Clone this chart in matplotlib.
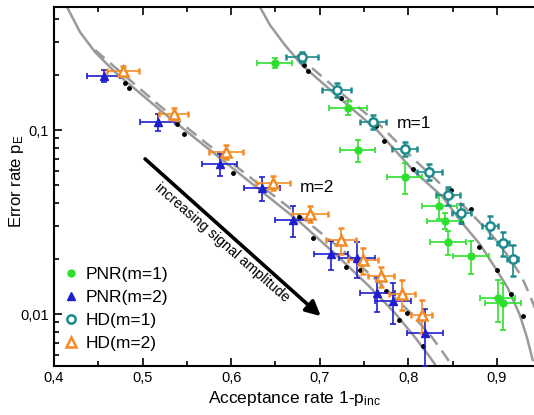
import matplotlib.pyplot as plt
from matplotlib.lines import Line2D
from matplotlib.ticker import FixedLocator, LogLocator, FuncFormatter

plt.rcParams['font.family'] = ['Liberation Sans', 'DejaVu Sans']
plt.rcParams['mathtext.fontset'] = 'custom'
plt.rcParams['mathtext.rm'] = 'Liberation Sans'

# measured points: acceptance rate 1-p_inc (x) and error rate p_E (y)
pnr1_x = [0.649, 0.732, 0.743, 0.796, 0.835, 0.841, 0.845, 0.871, 0.901, 0.907]
pnr1_y = [0.231, 0.132, 0.0778, 0.0555, 0.0386, 0.0320, 0.0246, 0.0207, 0.0122, 0.0115]
pnr1_xerr = [0.020, 0.021, 0.020, 0.020, 0.020, 0.020, 0.020, 0.020, 0.020, 0.020]
pnr1_yerr = [0.014, 0.0115, 0.0107, 0.0104, 0.0058, 0.0032, 0.0037, 0.0041, 0.0031, 0.0033]

pnr2_x = [0.456, 0.517, 0.587, 0.635, 0.670, 0.713, 0.742, 0.765, 0.783, 0.819]
pnr2_y = [0.1965, 0.1105, 0.0653, 0.0484, 0.0324, 0.0212, 0.0201, 0.0130, 0.0118, 0.0079]
pnr2_xerr = [0.019, 0.020, 0.020, 0.020, 0.020, 0.019, 0.020, 0.020, 0.020, 0.020]
pnr2_yerr = [0.0146, 0.0123, 0.0090, 0.0073, 0.0061, 0.0038, 0.0045, 0.0028, 0.0030, 0.0027]

hd1_x = [0.680, 0.719, 0.760, 0.796, 0.824, 0.845, 0.860, 0.892, 0.907, 0.918]
hd1_y = [0.249, 0.165, 0.1105, 0.0788, 0.0591, 0.0443, 0.0354, 0.0301, 0.0243, 0.0199]
hd1_xerr = [0.018, 0.016, 0.015, 0.014, 0.014, 0.014, 0.011, 0.009, 0.007, 0.006]
hd1_yerr = [0.0154, 0.0143, 0.0096, 0.0069, 0.0059, 0.0050, 0.0040, 0.0041, 0.0037, 0.0038]

hd2_x = [0.478, 0.535, 0.594, 0.647, 0.689, 0.724, 0.749, 0.769, 0.793, 0.815]
hd2_y = [0.209, 0.122, 0.0759, 0.0515, 0.0350, 0.0253, 0.0197, 0.0161, 0.0129, 0.0099]
hd2_xerr = [0.018, 0.016, 0.019, 0.019, 0.020, 0.017, 0.017, 0.015, 0.015, 0.012]
hd2_yerr = [0.013, 0.0091, 0.0066, 0.0045, 0.0035, 0.0041, 0.0032, 0.0020, 0.0024, 0.0020]

# theory curves
m2_solid_x = [0.4147, 0.4293, 0.4463, 0.4688, 0.5196, 0.5761, 0.6325, 0.6777, 0.7228, 0.7567, 0.7849, 0.8074, 0.8244, 0.8323]
m2_solid_y = [0.466, 0.3409, 0.2654, 0.2066, 0.1285, 0.0778, 0.0472, 0.0316, 0.0201, 0.01402, 0.01013, 0.0075, 0.00584, 0.00515]
m2_dash_x = [0.4463, 0.5196, 0.5761, 0.6325, 0.6777, 0.7284, 0.7679, 0.8018, 0.8266, 0.8413, 0.8503]
m2_dash_y = [0.2721, 0.1351, 0.0818, 0.0503, 0.0341, 0.0217, 0.01474, 0.01025, 0.0075, 0.00599, 0.00515]
m2_dots_x = [0.4801, 0.4847, 0.5388, 0.5467, 0.6020, 0.6765, 0.6923, 0.7296, 0.7454, 0.7747, 0.7894, 0.7984, 0.8165]
m2_dots_y = [0.180, 0.169, 0.1078, 0.0951, 0.0584, 0.0337, 0.0259, 0.0180, 0.0173, 0.0133, 0.00928, 0.0101, 0.0067]

m1_solid_x = [0.6325, 0.6438, 0.6607, 0.6799, 0.7251, 0.7646, 0.8052, 0.8391, 0.8582, 0.8808, 0.8977, 0.9124, 0.9260, 0.9339, 0.9406]
m1_solid_y = [0.466, 0.3722, 0.2897, 0.2256, 0.1455, 0.100, 0.0606, 0.0432, 0.0324, 0.0240, 0.0180, 0.01385, 0.00988, 0.0075, 0.00562]
m1_dash_x = [0.6743, 0.7228, 0.7679, 0.8074, 0.8413, 0.8695, 0.8955, 0.9147, 0.9282, 0.9372, 0.9429]
m1_dash_y = [0.2556, 0.1609, 0.1065, 0.0687, 0.0484, 0.0358, 0.0265, 0.0201, 0.0159, 0.0127, 0.01078]
m1_dots_x = [0.6822, 0.6867, 0.7239, 0.7634, 0.7725, 0.8052, 0.8481, 0.8707, 0.8594, 0.8797, 0.9000, 0.9158, 0.9293]
m1_dots_y = [0.2256, 0.2092, 0.1493, 0.1051, 0.0871, 0.0614, 0.0472, 0.0372, 0.0316, 0.0231, 0.0173, 0.01285, 0.00975]

green = '#2ee02e'
blue = '#1f1fcf'
teal = '#1d8a8c'
orange = '#f28c28'
gray = '#9a9a9a'

fig = plt.figure(figsize=(5.34, 4.15), dpi=100)
ax = fig.add_axes([54/534, 49/415, 480/534, 359/415])

# curves
ax.plot(m2_solid_x, m2_solid_y, color=gray, lw=1.8, zorder=1)
ax.plot(m2_dash_x, m2_dash_y, color=gray, lw=1.8, ls=(0, (5, 3)), zorder=1)
ax.plot(m1_solid_x, m1_solid_y, color=gray, lw=1.8, zorder=1)
ax.plot(m1_dash_x, m1_dash_y, color=gray, lw=1.8, ls=(0, (5, 3)), zorder=1)
ax.plot(m2_dots_x, m2_dots_y, 'o', color='black', ms=2.5, zorder=2)
ax.plot(m1_dots_x, m1_dots_y, 'o', color='black', ms=2.5, zorder=2)

eb = dict(capsize=2.5, elinewidth=1.2, capthick=1.2, zorder=3)
ax.errorbar(pnr1_x, pnr1_y, xerr=pnr1_xerr, yerr=pnr1_yerr, fmt='o', color=green, ms=5, **eb)
ax.errorbar(pnr2_x, pnr2_y, xerr=pnr2_xerr, yerr=pnr2_yerr, fmt='^', color=blue, ms=6, **eb)
ax.errorbar(hd1_x, hd1_y, xerr=hd1_xerr, yerr=hd1_yerr, fmt='o', color=teal, ms=6,
            mfc='white', mew=1.8, **eb)
ax.errorbar(hd2_x, hd2_y, xerr=hd2_xerr, yerr=hd2_yerr, fmt='^', color=orange, ms=7,
            mfc='white', mew=1.8, **eb)

# annotations
ax.text(0.807, 0.109, 'm=1', fontsize=12.5, ha='center', va='center')
ax.text(0.697, 0.049, 'm=2', fontsize=12.5, ha='center', va='center')
ax.annotate('', xy=(0.7036, 0.00951), xytext=(0.5005, 0.0713),
            arrowprops=dict(arrowstyle='-|>', color='black', lw=2.6, mutation_scale=22))
ax.text(0.5896, 0.0243, 'increasing signal amplitude', fontsize=10.3, rotation=-41,
        rotation_mode='anchor', ha='center', va='center')

# axes
ax.set_yscale('log')
ax.set_xlim(0.4, 0.942)
ax.set_ylim(0.00522, 0.466)
ax.spines['right'].set_visible(False)
ax.xaxis.set_major_locator(FixedLocator([0.4, 0.5, 0.6, 0.7, 0.8, 0.9]))
ax.xaxis.set_minor_locator(FixedLocator([0.45, 0.55, 0.65, 0.75, 0.85]))
ax.yaxis.set_major_locator(FixedLocator([0.01, 0.1]))
ax.yaxis.set_minor_locator(LogLocator(base=10, subs=range(2, 10)))
comma = FuncFormatter(lambda v, p: ('%g' % v).replace('.', ','))
ax.xaxis.set_major_formatter(comma)
ax.yaxis.set_major_formatter(comma)
ax.yaxis.set_minor_formatter(FuncFormatter(lambda v, p: ''))
ax.tick_params(which='both', direction='in', top=True, right=False, labelsize=10.5, width=1.2)
ax.tick_params(which='major', length=5.5)
ax.tick_params(which='minor', length=3.5)
for s in ['left', 'bottom', 'top']:
    ax.spines[s].set_linewidth(1.5)

ax.set_xlabel(r'Acceptance rate 1-$\mathregular{p_{inc}}$', fontsize=12.5, labelpad=3)
ax.set_ylabel(r'Error rate $\mathregular{p_E}$', fontsize=12)
ax.yaxis.set_label_coords(-0.058, 0.515)

handles = [
    Line2D([], [], ls='none', marker='o', color=green, ms=5),
    Line2D([], [], ls='none', marker='^', color=blue, ms=6),
    Line2D([], [], ls='none', marker='o', color=teal, mfc='white', mew=1.8, ms=6),
    Line2D([], [], ls='none', marker='^', color=orange, mfc='white', mew=1.8, ms=7),
]
labels = ['PNR(m=1)', 'PNR(m=2)', 'HD(m=1)', 'HD(m=2)']
ax.legend(handles, labels, loc='upper left', bbox_to_anchor=(0.0, 0.305), frameon=False,
          fontsize=12.5, handlelength=0.8, handletextpad=0.4, labelspacing=0.45,
          borderaxespad=0.2)

fig.savefig('out.png', dpi=100)
